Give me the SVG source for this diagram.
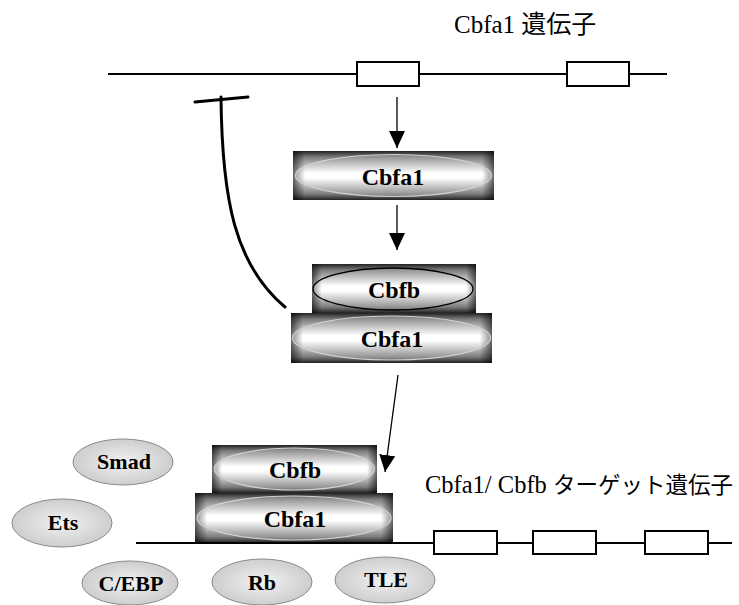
<svg xmlns="http://www.w3.org/2000/svg" width="739" height="605" viewBox="0 0 739 605">
<defs>
<style>
.gene{stroke:#000;stroke-width:2;fill:none}
.exon{stroke:#000;stroke-width:2;fill:#fff}
.arr{stroke:#000;stroke-width:1.3;fill:none}
.inh{stroke:#000;stroke-width:3;fill:none;stroke-linecap:round}
.lbl{font-family:'Liberation Serif',serif;font-weight:bold;font-size:24px;text-anchor:middle;fill:#000}
.olbl{font-family:'Liberation Serif',serif;font-weight:bold;font-size:22px;text-anchor:middle;fill:#000}
.cap{font-family:'Liberation Serif','Noto Sans CJK JP',serif;fill:#000}
.jp{font-family:'Noto Sans CJK JP',sans-serif}
.inner{fill:#fff;fill-opacity:0.2;stroke:#d0d0d0;stroke-width:1.2}
.innerd{fill:#fff;fill-opacity:0.2;stroke:#000;stroke-width:1.3}
.oval{fill:url(#og);stroke:#8a8a8a;stroke-width:1}
</style>
<linearGradient id="vg" x1="0" y1="0" x2="0" y2="1">
<stop offset="0" stop-color="#222"/>
<stop offset="0.12" stop-color="#7a7a7a"/>
<stop offset="0.45" stop-color="#fff"/>
<stop offset="0.55" stop-color="#fff"/>
<stop offset="0.88" stop-color="#7a7a7a"/>
<stop offset="1" stop-color="#222"/>
</linearGradient>
<linearGradient id="hg" x1="0" y1="0" x2="1" y2="0">
<stop offset="0" stop-color="#000" stop-opacity="0.6"/>
<stop offset="0.06" stop-color="#000" stop-opacity="0"/>
<stop offset="0.94" stop-color="#000" stop-opacity="0"/>
<stop offset="1" stop-color="#000" stop-opacity="0.6"/>
</linearGradient>
<radialGradient id="og" cx="0.5" cy="0.5" r="0.6">
<stop offset="0" stop-color="#f2f2f2"/>
<stop offset="1" stop-color="#c6c6c6"/>
</radialGradient>
<marker id="ah" viewBox="0 0 17 16" refX="17" refY="8" markerWidth="17" markerHeight="16" markerUnits="userSpaceOnUse" orient="auto">
<path d="M0,0 L17,8 L0,16 z" fill="#000"/>
</marker>
</defs>
<rect width="739" height="605" fill="#fff"/>

<g id="cbfa1-gene">
<line class="gene" x1="108" y1="74" x2="667" y2="74"/>
<rect class="exon" x="357" y="62" width="62" height="24"/>
<rect class="exon" x="567" y="62" width="62" height="24"/>
<text class="cap" x="454" y="33" font-size="25">Cbfa1 <tspan class="jp">遺伝子</tspan></text>
</g>

<g id="cbfa1-protein">
<rect x="293" y="151" width="201" height="49" fill="url(#vg)"/>
<rect x="293" y="151" width="201" height="49" fill="url(#hg)"/>
<ellipse class="inner" cx="393.5" cy="175.5" rx="98" ry="21"/>
<text class="lbl" x="393" y="185">Cbfa1</text>
</g>

<g id="complex-cbfb">
<rect x="312" y="264" width="164" height="49" fill="url(#vg)"/>
<rect x="312" y="264" width="164" height="49" fill="url(#hg)"/>
<ellipse class="innerd" cx="393" cy="289" rx="80" ry="21"/>
<text class="lbl" x="394" y="298">Cbfb</text>
</g>
<g id="complex-cbfa1">
<rect x="291" y="313" width="201" height="50" fill="url(#vg)"/>
<rect x="291" y="313" width="201" height="50" fill="url(#hg)"/>
<ellipse class="inner" cx="391.5" cy="338" rx="99" ry="22"/>
<text class="lbl" x="392" y="347">Cbfa1</text>
</g>

<g id="bound-cbfb">
<rect x="212" y="445" width="165" height="48" fill="url(#vg)"/>
<rect x="212" y="445" width="165" height="48" fill="url(#hg)"/>
<ellipse class="inner" cx="294.5" cy="469" rx="80" ry="21"/>
<text class="lbl" x="295" y="478">Cbfb</text>
</g>
<g id="bound-cbfa1">
<rect x="195" y="493" width="198" height="50" fill="url(#vg)"/>
<rect x="195" y="493" width="198" height="50" fill="url(#hg)"/>
<ellipse class="inner" cx="294" cy="518" rx="97" ry="22"/>
<text class="lbl" x="295" y="527">Cbfa1</text>
</g>

<g id="target-gene">
<line class="gene" x1="136" y1="543" x2="732" y2="543"/>
<rect class="exon" x="434" y="531" width="63" height="23"/>
<rect class="exon" x="533" y="531" width="63" height="23"/>
<rect class="exon" x="645" y="531" width="63" height="23"/>
<text class="cap" x="425" y="493" font-size="24.5">Cbfa1/ Cbfb <tspan class="jp" font-size="22.5">ターゲット遺伝子</tspan></text>
</g>

<g id="smad"><ellipse class="oval" cx="123" cy="462" rx="50" ry="23"/><text class="olbl" x="124" y="469">Smad</text></g>
<g id="ets"><ellipse class="oval" cx="62" cy="523" rx="50" ry="24"/><text class="olbl" x="63" y="530">Ets</text></g>
<g id="cebp"><ellipse class="oval" cx="130" cy="583" rx="48" ry="22"/><text class="olbl" x="131" y="591">C/EBP</text></g>
<g id="rb"><ellipse class="oval" cx="262" cy="582" rx="50" ry="23"/><text class="olbl" x="262" y="590">Rb</text></g>
<g id="tle"><ellipse class="oval" cx="385" cy="580" rx="50" ry="23"/><text class="olbl" x="386" y="587">TLE</text></g>

<g id="connectors">
<line class="arr" x1="397" y1="97" x2="397" y2="148" marker-end="url(#ah)"/>
<line class="arr" x1="397" y1="205" x2="397" y2="250" marker-end="url(#ah)"/>
<line class="arr" x1="398" y1="375" x2="385" y2="472" marker-end="url(#ah)"/>
<path class="inh" d="M221,97 C222,200 235,265 285,307"/>
<line class="inh" x1="195" y1="102" x2="248" y2="97"/>
</g>
</svg>
